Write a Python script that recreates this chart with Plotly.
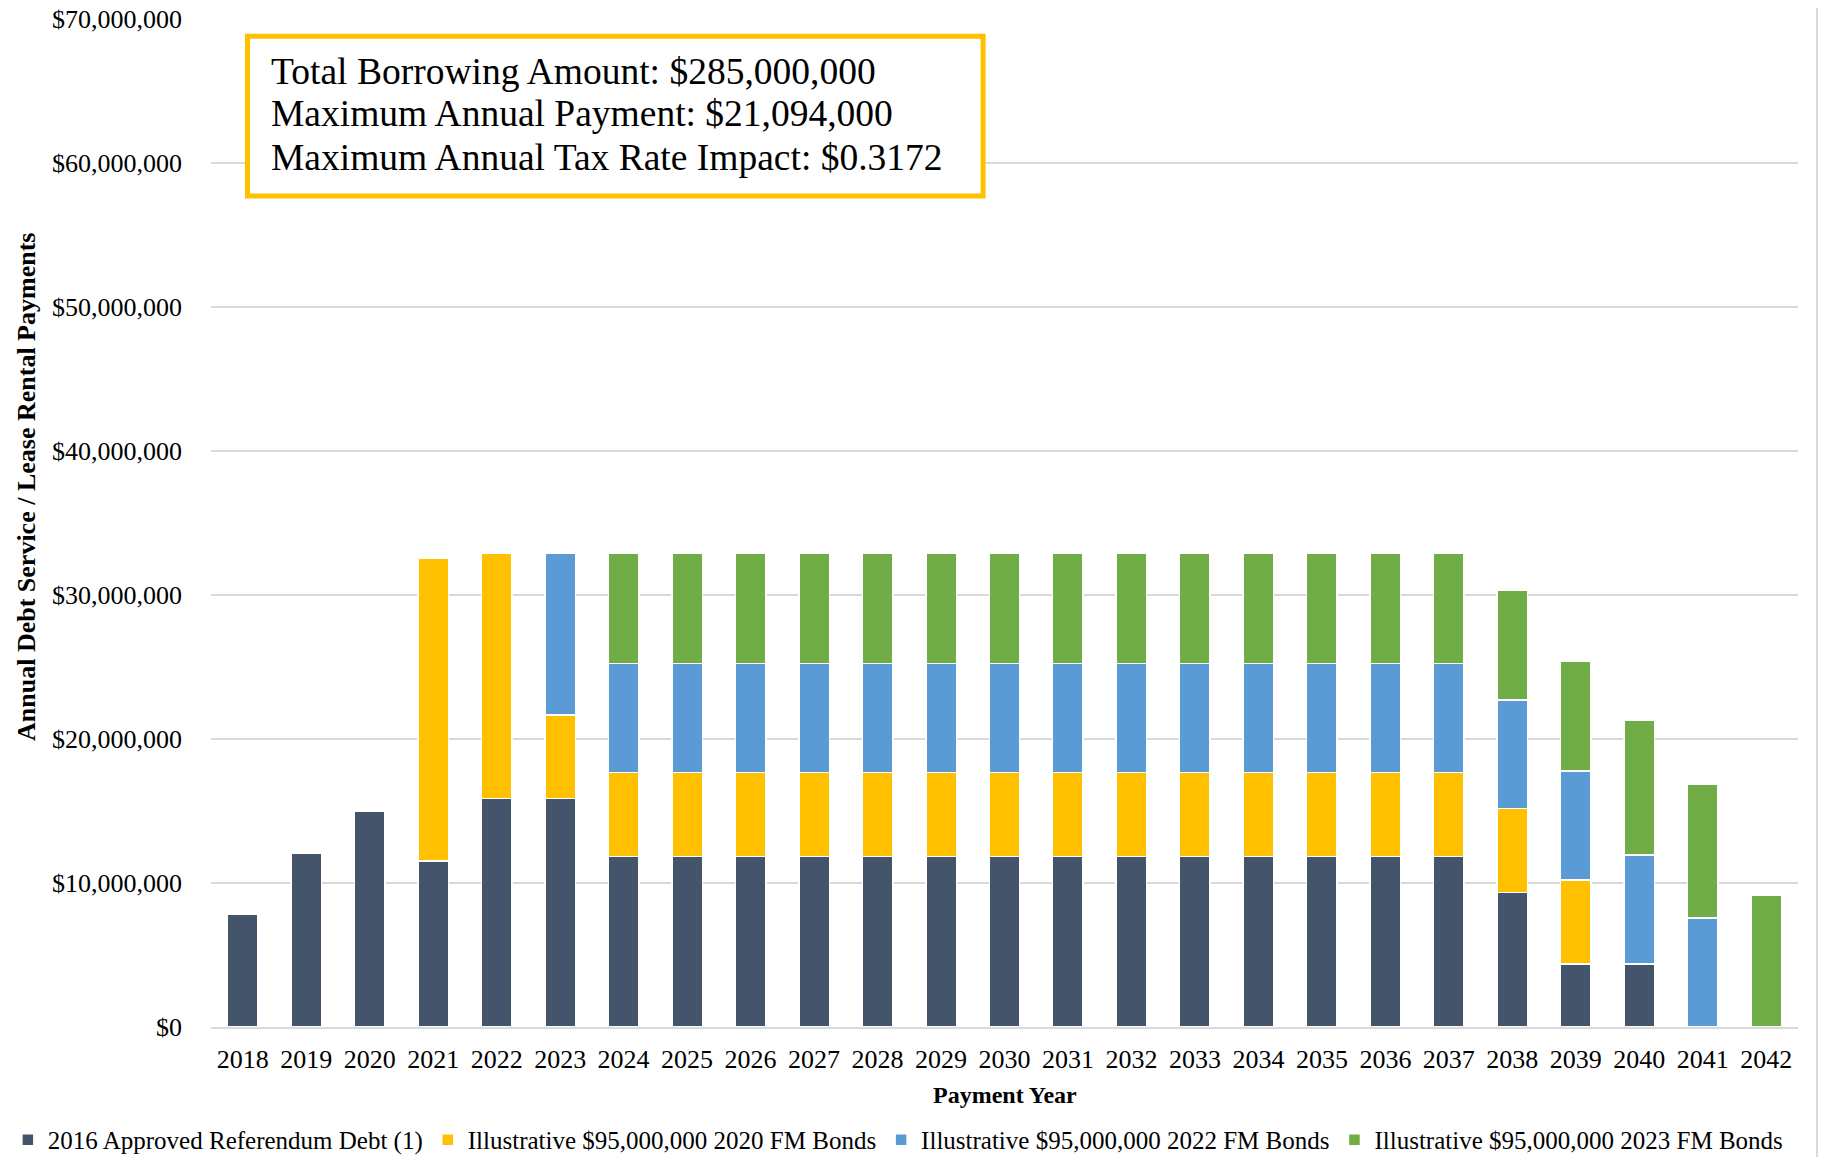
import plotly.graph_objects as go

years = [str(y) for y in range(2018, 2043)]

referendum_2016 = [7.80, 12.10, 14.98, 11.53, 15.86, 15.86, 11.85, 11.85, 11.85, 11.85, 11.85, 11.85,
                   11.85, 11.85, 11.85, 11.85, 11.85, 11.85, 11.85, 11.85, 9.33, 4.38, 4.38, 0, 0]
bonds_2020 = [0, 0, 0, 21.00, 17.03, 5.81, 5.82, 5.82, 5.82, 5.82, 5.82, 5.82,
              5.82, 5.82, 5.82, 5.82, 5.82, 5.82, 5.82, 5.82, 5.84, 5.83, 0, 0, 0]
bonds_2022 = [0, 0, 0, 0, 0, 11.22, 7.59, 7.59, 7.59, 7.59, 7.59, 7.59,
              7.59, 7.59, 7.59, 7.59, 7.59, 7.59, 7.59, 7.59, 7.54, 7.57, 7.56, 7.57, 0]
bonds_2023 = [0, 0, 0, 0, 0, 0, 7.63, 7.63, 7.63, 7.63, 7.63, 7.63,
              7.63, 7.63, 7.63, 7.63, 7.63, 7.63, 7.63, 7.63, 7.64, 7.64, 9.34, 9.31, 9.15]

series = [
    ("2016 Approved Referendum Debt (1)", referendum_2016, "#44546A"),
    ("Illustrative $95,000,000 2020 FM Bonds", bonds_2020, "#FFC000"),
    ("Illustrative $95,000,000 2022 FM Bonds", bonds_2022, "#5B9BD5"),
    ("Illustrative $95,000,000 2023 FM Bonds", bonds_2023, "#70AD47"),
]

info_lines = [
    "Total Borrowing Amount: $285,000,000",
    "Maximum Annual Payment: $21,094,000",
    "Maximum Annual Tax Rate Impact: $0.3172",
]

FONT = "Liberation Serif, Times New Roman, serif"

fig = go.Figure()
for name, vals, color in series:
    fig.add_trace(go.Bar(
        x=years, y=[v * 1e6 for v in vals], name=name,
        marker=dict(color=color, line=dict(color="white", width=1.5)),
    ))

fig.update_layout(
    barmode="stack",
    bargap=0.52,
    width=1839, height=1157,
    margin=dict(l=203, r=49, t=11, b=138, autoexpand=False),
    plot_bgcolor="white", paper_bgcolor="white",
    font=dict(family=FONT, size=26, color="black"),
    showlegend=True,
    legend=dict(
        orientation="h", xref="paper", yref="paper",
        x=-0.128, xanchor="left", y=-0.1121, yanchor="middle",
        font=dict(size=25), itemwidth=30, traceorder="normal",
        bgcolor="rgba(0,0,0,0)",
    ),
    xaxis=dict(
        type="category", showgrid=False, showline=True, linecolor="#D9D9D9", linewidth=2,
        ticks="", ticklabelstandoff=8, tickfont=dict(size=26),
        automargin=False,
    ),
    yaxis=dict(
        range=[0, 70e6], dtick=10e6, tickformat=",.0f", tickprefix="$",
        showgrid=True, gridcolor="#D9D9D9", gridwidth=2, zeroline=False,
        ticks="", ticklabelstandoff=28, tickfont=dict(size=26),
        ticklabeloverflow="allow",
        automargin=False,
    ),
)

# x-axis title
fig.add_annotation(
    text="<b>Payment Year</b>", xref="paper", yref="paper", x=0.5, y=-0.0675,
    xanchor="center", yanchor="middle", showarrow=False, font=dict(size=24),
)

# y-axis title (offset upward as in the reference)
fig.add_annotation(
    text="<b>Annual Debt Service / Lease Rental Payments</b>", textangle=-90,
    xref="paper", yref="paper", x=-0.1166, y=0.5357, xanchor="center", yanchor="middle",
    showarrow=False, font=dict(size=26),
)

# info box
fig.add_shape(type="rect", xref="paper", yref="paper", x0=0.023, x1=0.4865, y0=0.8244, y1=0.983,
              line=dict(color="#FFC000", width=5), fillcolor="white", layer="above")
for line, yy in zip(info_lines, [0.948, 0.906, 0.863]):
    fig.add_annotation(text=line, xref="paper", yref="paper", x=0.0363, y=yy,
                       xanchor="left", yanchor="middle", showarrow=False, font=dict(size=37.5))

# right chart border line
fig.add_shape(type="line", xref="paper", yref="paper", x0=1.012, x1=1.012, y0=-0.14, y1=1.02,
              line=dict(color="#D9D9D9", width=2))

fig.write_html("out.html")
